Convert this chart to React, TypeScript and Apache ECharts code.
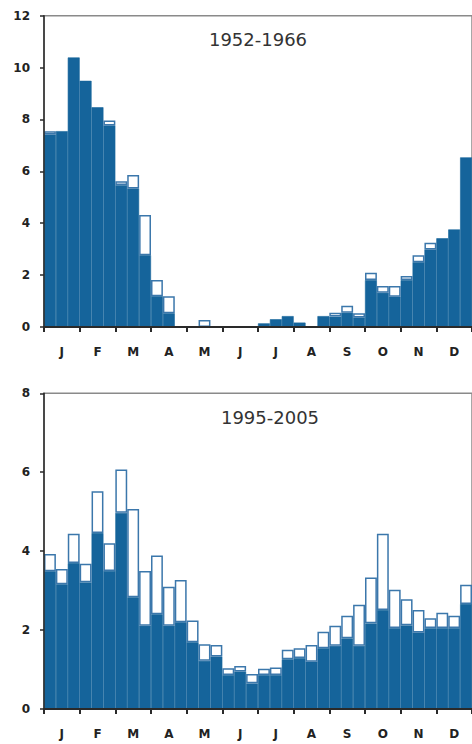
import React, { useEffect, useRef } from "react";
import * as echarts from "echarts";

const months = ["J", "F", "M", "A", "M", "J", "J", "A", "S", "O", "N", "D"];
const dekads = Array.from({ length: 36 }, (_, i) => months[Math.floor(i / 3)] + (i % 3 + 1));

const title1 = "1952-1966";
const dark1 = [7.42, 7.55, 10.39, 9.49, 8.47, 7.77, 5.47, 5.34, 2.77, 1.19, 0.53, 0, 0, 0, 0, 0, 0, 0, 0.14, 0.3, 0.42, 0.17, 0, 0.42, 0.4, 0.55, 0.37, 1.81, 1.32, 1.17, 1.81, 2.5, 2.99, 3.42, 3.76, 6.54];
const total1 = [7.55, 7.55, 10.39, 9.49, 8.47, 7.96, 5.62, 5.86, 4.32, 1.81, 1.19, 0, 0, 0.27, 0, 0, 0, 0, 0.14, 0.3, 0.42, 0.17, 0, 0.42, 0.55, 0.82, 0.53, 2.09, 1.58, 1.58, 1.97, 2.77, 3.25, 3.42, 3.76, 6.54];

const title2 = "1995-2005";
const dark2 = [3.49, 3.16, 3.7, 3.21, 4.46, 3.5, 4.97, 2.83, 2.11, 2.4, 2.11, 2.2, 1.69, 1.22, 1.33, 0.86, 0.95, 0.65, 0.86, 0.86, 1.26, 1.29, 1.2, 1.54, 1.6, 1.79, 1.6, 2.17, 2.51, 2.05, 2.12, 1.94, 2.05, 2.05, 2.05, 2.66];
const total2 = [3.93, 3.55, 4.44, 3.68, 5.52, 4.2, 6.07, 5.07, 3.5, 3.89, 3.1, 3.27, 2.24, 1.64, 1.62, 1.03, 1.09, 0.89, 1.02, 1.05, 1.5, 1.54, 1.62, 1.96, 2.11, 2.36, 2.64, 3.33, 4.44, 3.02, 2.78, 2.51, 2.3, 2.44, 2.36, 3.15];

const yMax1 = 12;
const yMax2 = 8;

const DARK = "#15649b";
const EDGE = "#3b77ab";
const AXIS = "#2a2a2a";
const LABEL = "#222";

export default function App() {
  const ref = useRef<HTMLDivElement>(null);
  useEffect(() => {
    if (!ref.current) return;
    const chart = echarts.init(ref.current, undefined, { renderer: "svg" });
    const diff = (t: number[], d: number[]) =>
      t.map((v, i) => (v - d[i] > 0.005 ? +(v - d[i]).toFixed(3) : "-"));
    const grids = [
      { left: 44, top: 15.7, width: 430, height: 311.3, show: true, borderColor: "#8a8a8a", borderWidth: 1.5 },
      { left: 44, top: 393.3, width: 428, height: 315.7, show: true, borderColor: "#8a8a8a", borderWidth: 1.5 },
    ];
    const xAxes: any[] = [];
    const yAxes: any[] = [];
    [0, 1].forEach((g) => {
      xAxes.push({
        type: "category",
        gridIndex: g,
        data: dekads,
        show: false,
      });
      xAxes.push({
        type: "category",
        gridIndex: g,
        data: months,
        position: "bottom",
        axisLine: { show: false },
        axisTick: { show: false },
        axisLabel: { interval: 0, color: LABEL, fontSize: 12, fontWeight: "bold", fontFamily: "DejaVu Sans", margin: 19 },
        splitLine: { show: false },
      });
      xAxes.push({
        type: "value",
        gridIndex: g,
        min: 0,
        max: dekads.length,
        interval: 3,
        position: "bottom",
        axisLine: { show: true, onZero: false, lineStyle: { color: AXIS, width: 2 } },
        axisTick: { show: true, inside: false, length: 5, lineStyle: { color: AXIS, width: 2 } },
        axisLabel: { show: false },
        splitLine: { show: false },
        z: 6,
      });
      yAxes.push({
        type: "value",
        gridIndex: g,
        min: 0,
        max: g === 0 ? yMax1 : yMax2,
        interval: 2,
        axisLine: { show: true, lineStyle: { color: AXIS, width: 1.5 } },
        axisTick: { show: true, length: 4, lineStyle: { color: AXIS, width: 1.5 } },
        axisLabel: { color: LABEL, fontSize: 12, fontWeight: "bold", fontFamily: "DejaVu Sans", margin: 14 },
        splitLine: { show: false },
        z: 6,
      });
    });
    const mk = (g: number, d: number[], t: number[]) => [
      {
        type: "bar",
        xAxisIndex: g * 3,
        yAxisIndex: g,
        stack: "s" + g,
        data: d,
        barCategoryGap: "0%",
        itemStyle: { color: DARK, borderColor: DARK, borderWidth: 0.6 },
      },
      {
        type: "bar",
        xAxisIndex: g * 3,
        yAxisIndex: g,
        stack: "s" + g,
        data: diff(t, d),
        barCategoryGap: "0%",
        itemStyle: { color: "#ffffff", borderColor: EDGE, borderWidth: 1.5 },
      },
    ];
    chart.setOption({
      animation: false,
      grid: grids,
      xAxis: xAxes,
      yAxis: yAxes,
      series: [...mk(0, dark1, total1), ...mk(1, dark2, total2)],
      graphic: [
        { type: "text", x: 258, y: 39, style: { text: title1, fontSize: 18, fontFamily: "DejaVu Sans", fill: "#333", align: "center", verticalAlign: "middle" }, z: 10 },
        { type: "text", x: 270, y: 417, style: { text: title2, fontSize: 18, fontFamily: "DejaVu Sans", fill: "#333", align: "center", verticalAlign: "middle" }, z: 10 },
      ],
    });
    return () => chart.dispose();
  }, []);
  return <div ref={ref} style={{ position: "fixed", left: 0, top: 0, width: 472, height: 744, background: "#fff" }} />;
}
